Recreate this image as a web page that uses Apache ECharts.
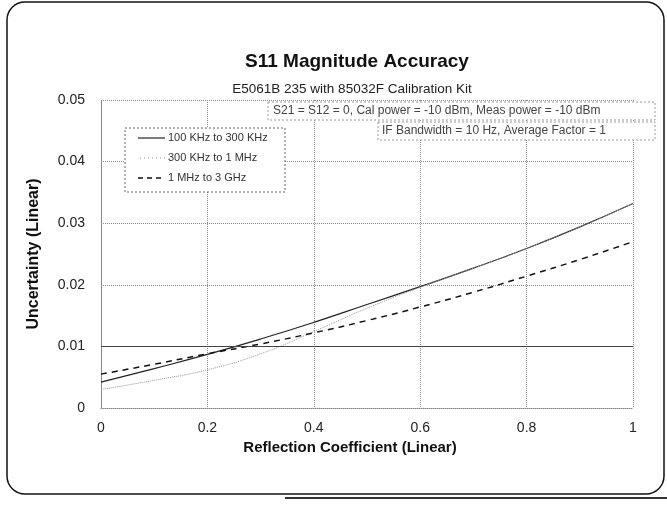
<!DOCTYPE html>
<html>
<head>
<meta charset="utf-8">
<script src="https://cdn.jsdelivr.net/npm/echarts@6/dist/echarts.min.js"></script>
<style>
  html, body { margin: 0; padding: 0; background: #fff; }
  #chart { width: 667px; height: 506px; }
</style>
</head>
<body>
<div id="chart"></div>
<script>
// 反射系数 (x) 与各频段的不确定度
const reflection = [0, 0.1, 0.2, 0.3, 0.4, 0.5, 0.6, 0.7, 0.8, 0.9, 1];
const band100k = [0.0042, 0.0064, 0.0087, 0.0112, 0.0139, 0.0168, 0.0197, 0.0227, 0.0259, 0.0294, 0.0332];
const band300k = [0.0030, 0.0045, 0.0062, 0.0088, 0.0124, 0.0162, 0.0196, 0.0227, 0.0259, 0.0294, 0.0332];
const band1M = [0.0055, 0.0071, 0.0088, 0.0104, 0.0122, 0.0142, 0.0164, 0.0188, 0.0214, 0.0241, 0.0270];
const legendNames = ["100 KHz to 300 KHz", "300 KHz to 1 MHz", "1 MHz to 3 GHz"];
const notes = [
  "S21 = S12 = 0, Cal power = -10 dBm, Meas power = -10 dBm",
  "IF Bandwidth = 10 Hz, Average Factor = 1",
];

const myChart = echarts.init(document.getElementById("chart"));
const font = "Liberation Sans, Arial, sans-serif";

function pairs(ys) {
  return reflection.map((x, i) => [x, ys[i]]);
}

const option = {
  backgroundColor: "#fff",
  animation: false,
  title: [
    {
      text: "S11 Magnitude Accuracy",
      left: 352,
      top: 47,
      textAlign: "center",
      textStyle: { fontFamily: font, fontSize: 19, fontWeight: "bold", color: "#111" },
    },
    {
      text: "E5061B 235 with 85032F Calibration Kit",
      left: 347,
      top: 77,
      textAlign: "center",
      textStyle: { fontFamily: font, fontSize: 13.5, fontWeight: "normal", color: "#222" },
    },
  ],
  grid: { left: 101, right: 34, top: 100, bottom: 98 },
  xAxis: {
    type: "value",
    min: 0,
    max: 1,
    interval: 0.2,
    name: "Reflection Coefficient (Linear)",
    nameLocation: "middle",
    nameGap: 30,
    nameTextStyle: {
      fontFamily: font,
      fontSize: 15,
      fontWeight: "bold",
      color: "#111",
      padding: [0, 34, 0, 0],
    },
    axisLine: { lineStyle: { color: "#888", type: "dotted" } },
    axisTick: { show: false },
    axisLabel: { fontFamily: font, fontSize: 14, color: "#222", margin: 13 },
    splitLine: { lineStyle: { color: "#888", type: "dotted" } },
  },
  yAxis: {
    type: "value",
    min: 0,
    max: 0.05,
    interval: 0.01,
    name: "Uncertainty (Linear)",
    nameLocation: "middle",
    nameGap: 59,
    nameTextStyle: { fontFamily: font, fontSize: 16, fontWeight: "bold", color: "#111" },
    axisLine: { show: true, lineStyle: { color: "#888", type: "dotted" } },
    axisTick: { show: false },
    axisLabel: { fontFamily: font, fontSize: 14, color: "#222", margin: 16 },
    splitLine: { lineStyle: { color: "#888", type: "dotted" } },
  },
  series: [
    {
      name: legendNames[0],
      type: "line",
      data: pairs(band100k),
      smooth: true,
      symbol: "none",
      lineStyle: { color: "#222", width: 1.2, type: "solid" },
      markLine: {
        silent: true,
        symbol: "none",
        label: { show: false },
        lineStyle: { color: "#444", width: 1, type: "solid" },
        data: [{ yAxis: 0.01 }],
      },
    },
    {
      name: legendNames[1],
      type: "line",
      data: pairs(band300k),
      smooth: true,
      symbol: "none",
      lineStyle: { color: "#999", width: 1, type: "dotted" },
    },
    {
      name: legendNames[2],
      type: "line",
      data: pairs(band1M),
      smooth: true,
      symbol: "none",
      lineStyle: { color: "#111", width: 1.5, type: [6, 5] },
    },
  ],
  graphic: [
    {
      type: "rect",
      shape: { x: 7, y: 2, width: 657, height: 492, r: 18 },
      style: { fill: "none", stroke: "#111", lineWidth: 1.5 },
    },
    {
      type: "line",
      shape: { x1: 285, y1: 498, x2: 667, y2: 498 },
      style: { stroke: "#333", lineWidth: 2 },
    },
    // 参数说明框
    {
      type: "rect",
      z: 10,
      shape: { x: 268, y: 102, width: 387, height: 18 },
      style: { fill: "#fff", stroke: "#999", lineWidth: 1, lineDash: [2, 2] },
    },
    {
      type: "text",
      z: 11,
      left: 273,
      top: 105,
      style: { text: notes[0], font: "12px " + font, fill: "#444" },
    },
    {
      type: "rect",
      z: 10,
      shape: { x: 378, y: 122, width: 277, height: 18 },
      style: { fill: "#fff", stroke: "#999", lineWidth: 1, lineDash: [2, 2] },
    },
    {
      type: "text",
      z: 11,
      left: 382,
      top: 125,
      style: { text: notes[1], font: "12px " + font, fill: "#444" },
    },
    // 图例框
    {
      type: "rect",
      z: 10,
      shape: { x: 125, y: 128, width: 160, height: 64 },
      style: { fill: "#fff", stroke: "#666", lineWidth: 1, lineDash: [2, 2] },
    },
    {
      type: "line",
      z: 11,
      shape: { x1: 138, y1: 138, x2: 165, y2: 138 },
      style: { stroke: "#222", lineWidth: 1.2 },
    },
    {
      type: "line",
      z: 11,
      shape: { x1: 140, y1: 158, x2: 165, y2: 158 },
      style: { stroke: "#999", lineWidth: 1, lineDash: [1, 3] },
    },
    {
      type: "line",
      z: 11,
      shape: { x1: 138, y1: 178, x2: 165, y2: 178 },
      style: { stroke: "#111", lineWidth: 1.5, lineDash: [5, 4] },
    },
    {
      type: "text",
      z: 11,
      left: 168,
      top: 132,
      style: { text: legendNames[0], font: "11px " + font, fill: "#333" },
    },
    {
      type: "text",
      z: 11,
      left: 168,
      top: 152,
      style: { text: legendNames[1], font: "11px " + font, fill: "#333" },
    },
    {
      type: "text",
      z: 11,
      left: 168,
      top: 172,
      style: { text: legendNames[2], font: "11px " + font, fill: "#333" },
    },
  ],
};

myChart.setOption(option);
</script>
</body>
</html>
